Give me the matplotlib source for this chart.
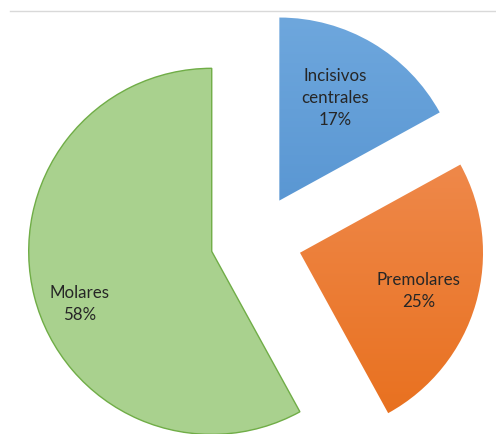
import numpy as np
import matplotlib
matplotlib.use("Agg")
import matplotlib.pyplot as plt
from matplotlib.lines import Line2D
from matplotlib.colors import LinearSegmentedColormap

categories = ["Incisivos\ncentrales", "Premolares", "Molares"]
values = [17, 25, 58]
pct_labels = ["17%", "25%", "58%"]

top_colors = ["#6EA7DD", "#F1915A", "#A9D18E"]
bottom_colors = ["#4687C9", "#E86F1C", "#A9D18E"]
edge_colors = ["none", "none", "#70AD47"]
explode = [0.25, 0.25, 0.25]
label_r = [0.64, 0.68, 0.78]
label_dang = [2.0, -1.5, 7.4]

fig = plt.figure(figsize=(4.96, 4.34), dpi=100)
ax = fig.add_axes([0, 0, 1, 1])
ax.set_xlim(-1.399, 1.311)
ax.set_ylim(-1.060, 1.311)
ax.axis("off")

wedges, _ = ax.pie(values, startangle=90, counterclock=False, explode=explode,
                   radius=1.0, colors=top_colors,
                   wedgeprops=dict(linewidth=0))

for i, w in enumerate(wedges):
    if top_colors[i] != bottom_colors[i]:
        w.set_facecolor("none")
        cmap = LinearSegmentedColormap.from_list("g%d" % i, [bottom_colors[i], top_colors[i]])
        cx, cy = w.center
        grad = np.linspace(0, 1, 256).reshape(-1, 1)
        im = ax.imshow(grad, cmap=cmap, origin="lower", aspect="auto",
                       extent=[cx - 1, cx + 1, cy - 1, cy + 1], zorder=w.get_zorder() - 0.1,
                       interpolation="bilinear")
        im.set_clip_path(w)
    if edge_colors[i] != "none":
        w.set_edgecolor(edge_colors[i])
        w.set_linewidth(1.0)

ax.set_xlim(-1.399, 1.311)
ax.set_ylim(-1.060, 1.311)

for i, w in enumerate(wedges):
    cx, cy = w.center
    mid = np.deg2rad((w.theta1 + w.theta2) / 2 + label_dang[i])
    x = cx + label_r[i] * np.cos(mid)
    y = cy + label_r[i] * np.sin(mid)
    ax.text(x, y, categories[i] + "\n" + pct_labels[i], ha="center", va="center",
            fontsize=12.2, family="Lato", color="#262626", linespacing=1.45)

fig.add_artist(Line2D([10 / 496, 1], [1 - 10.5 / 434, 1 - 10.5 / 434],
                      color="#D9D9D9", linewidth=1.0, transform=fig.transFigure))

fig.savefig("out.png", dpi=100)
